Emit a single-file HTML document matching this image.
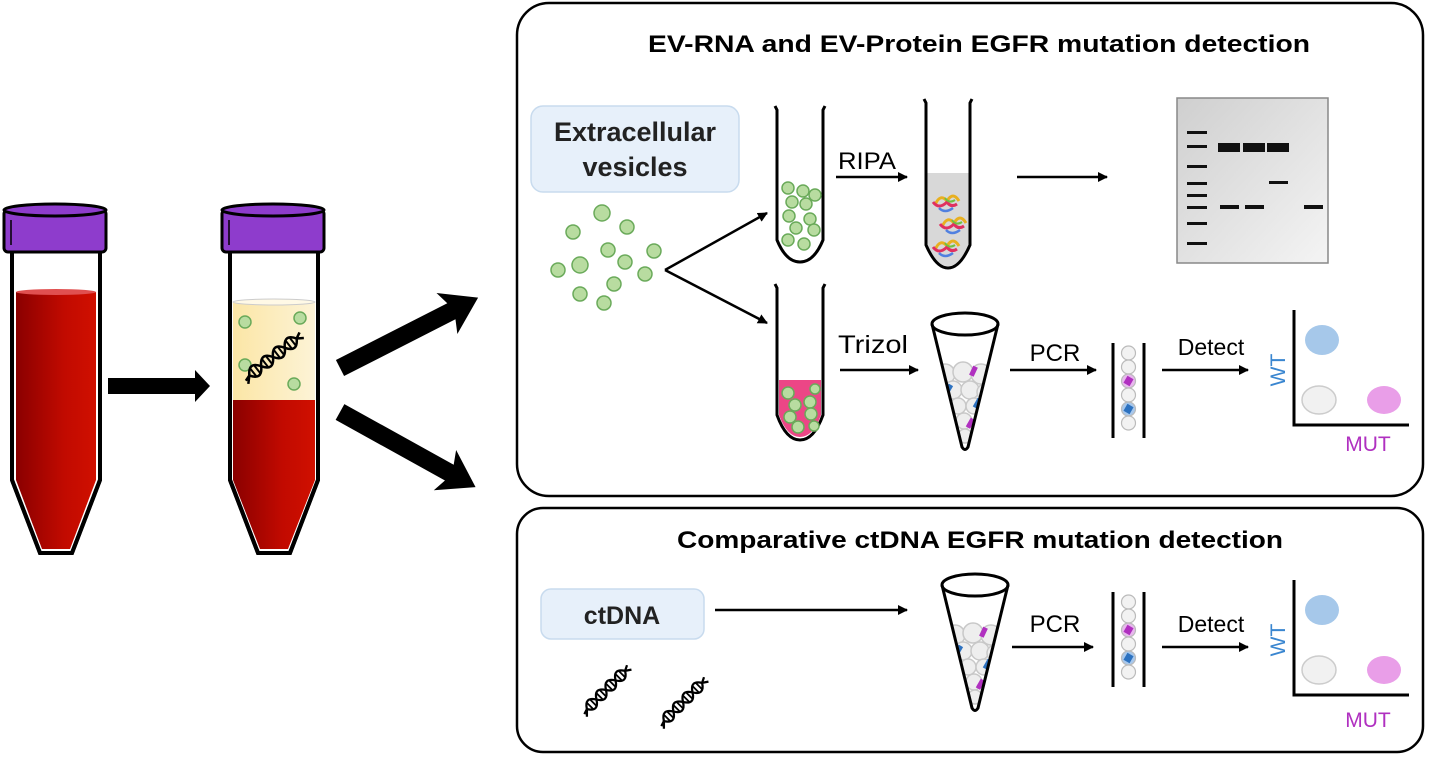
<!DOCTYPE html>
<html><head><meta charset="utf-8"><style>
html,body{margin:0;padding:0;background:#fff;}
svg{display:block;font-family:"Liberation Sans",Arial,sans-serif;}
</style></head><body>
<svg width="1436" height="759" viewBox="0 0 1436 759" xmlns="http://www.w3.org/2000/svg">
<defs>
<linearGradient id="blood" x1="0" x2="1"><stop offset="0" stop-color="#8a0000"/><stop offset="0.6" stop-color="#c10a00"/><stop offset="1" stop-color="#d01000"/></linearGradient>
<linearGradient id="plasma" x1="0" x2="1"><stop offset="0" stop-color="#fbe6a6"/><stop offset="1" stop-color="#fdf3d6"/></linearGradient>
<linearGradient id="gel" x1="0" y1="0" x2="1" y2="1"><stop offset="0" stop-color="#cfcfcf"/><stop offset="1" stop-color="#f4f4f4"/></linearGradient>
<marker id="ah" markerWidth="10" markerHeight="10" refX="9" refY="5" orient="auto" markerUnits="userSpaceOnUse"><path d="M0,0 L10,5 L0,10 Z" fill="#000"/></marker>
<clipPath id="coneclip"><path d="M-33,0 L-3,123 Q0,128 3,123 L33,0 Z"/></clipPath>
<g id="cone">
 <ellipse cx="0" cy="0" rx="33" ry="11" fill="#fff" stroke="#000" stroke-width="3"/>
 <g clip-path="url(#coneclip)">
 <g fill="#eee" stroke="#c8c8c8" stroke-width="1.5">
 <circle cx="-20" cy="50" r="10"/><circle cx="-2" cy="48" r="10"/><circle cx="16" cy="50" r="10"/>
 <circle cx="-12" cy="66" r="9"/><circle cx="5" cy="66" r="9"/><circle cx="20" cy="68" r="8"/>
 <circle cx="-7" cy="82" r="8"/><circle cx="9" cy="82" r="8"/><circle cx="-1" cy="97" r="8"/><circle cx="0" cy="112" r="7"/></g>
 <rect x="6" y="42" width="5" height="10" fill="#b030c0" transform="rotate(25 8 47)"/>
 <rect x="-19" y="60" width="5" height="10" fill="#2d72c0" transform="rotate(30 -17 65)"/>
 <rect x="10" y="74" width="5" height="10" fill="#2d72c0" transform="rotate(30 12 79)"/>
 <rect x="3" y="94" width="5" height="10" fill="#b030c0" transform="rotate(30 5 99)"/>
 </g>
 <path d="M-33,0 L-3,123 Q0,128 3,123 L33,0" fill="none" stroke="#000" stroke-width="3"/>
</g>
<g id="col">
 <line x1="0" y1="0" x2="0" y2="95" stroke="#000" stroke-width="3"/>
 <line x1="31" y1="0" x2="31" y2="95" stroke="#000" stroke-width="3"/>
 <g stroke="#bbb" stroke-width="1.2">
 <circle cx="15.5" cy="10" r="7" fill="#f2f2f2"/><circle cx="15.5" cy="24" r="7" fill="#f2f2f2"/>
 <circle cx="15.5" cy="38" r="7" fill="#e8b8ee"/><circle cx="15.5" cy="52" r="7" fill="#f2f2f2"/>
 <circle cx="15.5" cy="66" r="7" fill="#a8c8ec"/><circle cx="15.5" cy="80" r="7" fill="#f2f2f2"/></g>
 <rect x="12" y="34" width="7" height="8" fill="#b030c0" transform="rotate(30 15.5 38)"/><rect x="12" y="62" width="7" height="8" fill="#2d72c0" transform="rotate(30 15.5 66)"/>
</g>
<g id="plot">
 <path d="M0,0 L0,115 L115,115" fill="none" stroke="#000" stroke-width="3"/>
 <ellipse cx="28" cy="30" rx="17" ry="15" fill="#a6c8ea"/>
 <ellipse cx="25" cy="90" rx="17" ry="14" fill="#f1f1f1" stroke="#ccc" stroke-width="1.5"/>
 <ellipse cx="90" cy="90" rx="17" ry="14" fill="#e99ee8"/>
 <text x="-9" y="60" font-size="21" fill="#3a86d0" text-anchor="middle" transform="rotate(-90 -9 60)">WT</text>
</g>
<g id="dna">
 <g fill="none" stroke="#000" stroke-width="2.5">
 <path d="M-36,2 L-30,0 C-25,-8 -20,-8 -15,0 S-5,8 0,0 S10,-8 15,0 S25,8 30,0 L36,-3"/>
 <path d="M-36,6 L-30,0 C-25,8 -20,8 -15,0 S-5,-8 0,0 S10,8 15,0 S25,-8 30,0 L36,4"/>
 </g>
 <g stroke="#000" stroke-width="2">
 <line x1="-25" y1="-5" x2="-25" y2="5"/><line x1="-20" y1="-5" x2="-20" y2="5"/>
 <line x1="-10" y1="-5" x2="-10" y2="5"/><line x1="-5" y1="-5" x2="-5" y2="5"/>
 <line x1="5" y1="-5" x2="5" y2="5"/><line x1="10" y1="-5" x2="10" y2="5"/>
 <line x1="20" y1="-5" x2="20" y2="5"/><line x1="25" y1="-5" x2="25" y2="5"/>
 </g>
</g>
<g id="ptn">
 <path d="M-10,5 q5,-12 12,-4 q6,-10 12,0" stroke="#e8b020" stroke-width="3" fill="none"/>
 <path d="M-12,2 q6,8 14,0 q4,6 10,2" stroke="#e03060" stroke-width="3" fill="none"/>
 <path d="M-6,8 q6,6 14,0" stroke="#5080e0" stroke-width="2.5" fill="none"/>
 <path d="M0,-2 q4,6 10,2" stroke="#70c040" stroke-width="2" fill="none"/>
</g>
</defs>

<!-- Left tubes -->
<g>
 <path d="M12,252 L12,480 L40,553 L72,553 L100,480 L100,252" fill="#fff" stroke="#000" stroke-width="4"/>
 <path d="M16,292 L96,292 L96,480 L70,549 L42,549 L16,480 Z" fill="url(#blood)"/>
 <ellipse cx="56" cy="292" rx="40" ry="3" fill="#e05050"/>
 <path d="M12,252 L12,480 L40,553 L72,553 L100,480 L100,252" fill="none" stroke="#000" stroke-width="4"/>
 <rect x="4" y="210" width="102" height="42" rx="4" fill="#8e3ccc" stroke="#000" stroke-width="3"/>
 <ellipse cx="55" cy="210" rx="51" ry="6" fill="#8e3ccc" stroke="#000" stroke-width="3"/>
 <line x1="11" y1="220" x2="11" y2="245" stroke="#000" stroke-width="1.5"/>
</g>
<g>
 <path d="M230,252 L230,480 L258,553 L290,553 L318,480 L318,252" fill="#fff" stroke="#000" stroke-width="4"/>
 <path d="M233,302 L315,302 L315,400 L233,400 Z" fill="url(#plasma)"/>
 <ellipse cx="274" cy="302" rx="41" ry="3" fill="#fff9e6" stroke="#ccc"/>
 <path d="M233,400 L315,400 L315,480 L288,549 L260,549 L233,480 Z" fill="url(#blood)"/>
 <path d="M230,252 L230,480 L258,553 L290,553 L318,480 L318,252" fill="none" stroke="#000" stroke-width="4"/>
 <g fill="#b8dca0" stroke="#6aaa5a" stroke-width="1.5">
 <circle cx="245" cy="322" r="6"/><circle cx="300" cy="318" r="6"/><circle cx="245" cy="365" r="6"/><circle cx="294" cy="384" r="6"/></g>
 <use href="#dna" transform="translate(273,357) rotate(-38)"/>
 <rect x="222" y="210" width="102" height="42" rx="4" fill="#8e3ccc" stroke="#000" stroke-width="3"/>
 <ellipse cx="273" cy="210" rx="51" ry="6" fill="#8e3ccc" stroke="#000" stroke-width="3"/>
 <line x1="229" y1="220" x2="229" y2="245" stroke="#000" stroke-width="1.5"/>
</g>
<!-- thick arrows -->
<path d="M108,378 L195,378 L195,370 L210,386 L195,402 L195,394 L108,394 Z" fill="#000"/>
<g transform="translate(340,368) rotate(-27)"><path d="M0,-9 L125,-9 L120,-23 L155,0 L120,23 L125,9 L0,9 Z" fill="#000"/></g>
<g transform="translate(340,412) rotate(29)"><path d="M0,-9 L125,-9 L120,-23 L155,0 L120,23 L125,9 L0,9 Z" fill="#000"/></g>

<!-- Top box -->
<rect x="517" y="3" width="906" height="493" rx="32" fill="#fff" stroke="#000" stroke-width="2.5"/>
<text x="648" y="52" font-size="24" font-weight="bold" textLength="662" lengthAdjust="spacingAndGlyphs">EV-RNA and EV-Protein EGFR mutation detection</text>
<rect x="531" y="106" width="208" height="86" rx="12" fill="#e7f0fa" stroke="#c8dbee" stroke-width="1.5"/>
<text x="635" y="141" font-size="27" font-weight="bold" text-anchor="middle" fill="#222">Extracellular</text>
<text x="635" y="176" font-size="27" font-weight="bold" text-anchor="middle" fill="#222">vesicles</text>
<g fill="#b8dca0" stroke="#6aaa5a" stroke-width="1.5">
<circle cx="602" cy="213" r="8"/><circle cx="573" cy="232" r="7"/><circle cx="627" cy="227" r="7"/><circle cx="558" cy="270" r="7"/><circle cx="580" cy="265" r="8"/>
<circle cx="608" cy="250" r="7"/><circle cx="625" cy="262" r="7"/><circle cx="654" cy="251" r="7"/><circle cx="645" cy="274" r="7"/><circle cx="580" cy="294" r="7"/>
<circle cx="614" cy="284" r="7"/><circle cx="604" cy="303" r="7"/></g>
<g stroke="#000" stroke-width="2.5" fill="none">
<path d="M665,270 L767,213" marker-end="url(#ah)"/>
<path d="M665,270 L767,323" marker-end="url(#ah)"/>
<path d="M836,177 L907,177" marker-end="url(#ah)"/>
<path d="M1017,177 L1107,177" marker-end="url(#ah)"/>
<path d="M840,370 L918,370" marker-end="url(#ah)"/>
<path d="M1010,370 L1096,370" marker-end="url(#ah)"/>
<path d="M1162,370 L1248,370" marker-end="url(#ah)"/>
</g>
<!-- tube A -->
<path d="M775,106 L777,110 L777,240 Q786,262 800,262 Q814,262 823,240 L823,110 L825,106" fill="#fff" stroke="#000" stroke-width="3"/>
<g fill="#b8dca0" stroke="#6aaa5a" stroke-width="1.5">
<circle cx="788" cy="188" r="6"/><circle cx="803" cy="191" r="6"/><circle cx="815" cy="195" r="6"/><circle cx="792" cy="202" r="6"/><circle cx="806" cy="204" r="6"/>
<circle cx="789" cy="216" r="6"/><circle cx="810" cy="219" r="6"/><circle cx="796" cy="228" r="6"/><circle cx="814" cy="230" r="6"/><circle cx="788" cy="240" r="6"/><circle cx="804" cy="244" r="6"/></g>
<text x="838" y="169" font-size="24" textLength="58" lengthAdjust="spacingAndGlyphs">RIPA</text>
<!-- tube B -->
<path d="M927,173 L969,173 L969,245 Q960,266 948,266 Q936,266 927,245 Z" fill="#d8d8d8"/>
<path d="M924,99 L926,103 L926,245 Q936,268 948,268 Q960,268 970,245 L970,103 L972,99" fill="none" stroke="#000" stroke-width="3"/>
<use href="#ptn" transform="translate(945,200)"/><use href="#ptn" transform="translate(952,222)"/><use href="#ptn" transform="translate(945,245)"/>
<!-- gel -->
<rect x="1177" y="98" width="151" height="165" fill="url(#gel)" stroke="#888" stroke-width="1.5"/>
<g fill="#111">
<rect x="1187" y="131" width="20" height="3"/><rect x="1187" y="145" width="20" height="3"/><rect x="1187" y="165" width="20" height="3"/><rect x="1187" y="182" width="20" height="3"/>
<rect x="1187" y="194" width="20" height="3"/><rect x="1187" y="206" width="20" height="3"/><rect x="1187" y="222" width="20" height="3"/><rect x="1187" y="242" width="20" height="3"/>
<rect x="1218" y="143" width="22" height="9"/><rect x="1243" y="143" width="22" height="9"/><rect x="1267" y="143" width="22" height="9"/>
<rect x="1269" y="181" width="19" height="3"/>
<rect x="1220" y="205" width="19" height="4"/><rect x="1245" y="205" width="19" height="4"/><rect x="1304" y="205" width="19" height="4"/>
</g>
<!-- pink tube -->
<path d="M779,380 L821,380 L821,415 Q813,437 800,437 Q787,437 779,415 Z" fill="#ec4686"/>
<path d="M775,284 L777,288 L777,415 Q786,440 800,440 Q814,440 823,415 L823,288 L825,284" fill="none" stroke="#000" stroke-width="3"/>
<g fill="#b8dca0" stroke="#6aaa5a" stroke-width="1.5">
<circle cx="788" cy="393" r="6"/><circle cx="815" cy="389" r="5"/><circle cx="795" cy="405" r="6"/><circle cx="810" cy="402" r="6"/>
<circle cx="790" cy="417" r="6"/><circle cx="811" cy="414" r="6"/><circle cx="798" cy="427" r="6"/><circle cx="814" cy="426" r="5"/></g>
<text x="838" y="353" font-size="25" textLength="70" lengthAdjust="spacingAndGlyphs">Trizol</text>
<use href="#cone" transform="translate(965,324)"/>
<text x="1055" y="361" font-size="24" text-anchor="middle">PCR</text>
<use href="#col" transform="translate(1113,343)"/>
<text x="1211" y="355" font-size="23" text-anchor="middle">Detect</text>
<use href="#plot" transform="translate(1294,310)"/>
<text x="1368" y="451" font-size="21" fill="#b030c0" text-anchor="middle">MUT</text>

<!-- Bottom box -->
<rect x="517" y="508" width="906" height="244" rx="26" fill="#fff" stroke="#000" stroke-width="2.5"/>
<text x="677" y="548" font-size="24" font-weight="bold" textLength="606" lengthAdjust="spacingAndGlyphs">Comparative ctDNA EGFR mutation detection</text>
<rect x="541" y="589" width="163" height="50" rx="10" fill="#e7f0fa" stroke="#c8dbee" stroke-width="1.5"/>
<text x="622" y="624" font-size="25" font-weight="bold" text-anchor="middle" fill="#222">ctDNA</text>
<use href="#dna" transform="translate(606,690) rotate(-45) scale(0.9)"/>
<use href="#dna" transform="translate(683,702) rotate(-45) scale(0.9)"/>
<g stroke="#000" stroke-width="2.5" fill="none">
<path d="M715,610 L907,610" marker-end="url(#ah)"/>
<path d="M1012,647 L1093,647" marker-end="url(#ah)"/>
<path d="M1162,647 L1248,647" marker-end="url(#ah)"/>
</g>
<use href="#cone" transform="translate(975,585)"/>
<text x="1055" y="632" font-size="24" text-anchor="middle">PCR</text>
<use href="#col" transform="translate(1113,592)"/>
<text x="1211" y="632" font-size="23" text-anchor="middle">Detect</text>
<use href="#plot" transform="translate(1294,580)"/>
<text x="1368" y="727" font-size="21" fill="#b030c0" text-anchor="middle">MUT</text>
</svg>
</body></html>
